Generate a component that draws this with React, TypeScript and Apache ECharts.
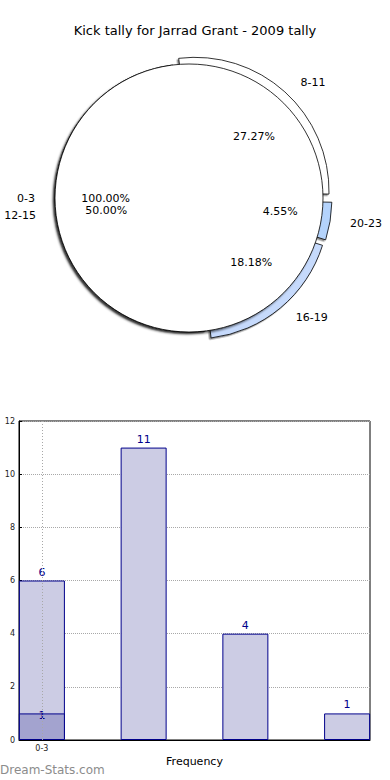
import React, { useEffect, useRef } from 'react';
import * as echarts from 'echarts';

const TITLE = 'Kick tally for Jarrad Grant - 2009 tally';
const WATERMARK = 'Dream-Stats.com';

// Pie 1 (single full slice)
const pieOneNames = ['0-3'];
const pieOneValues = [1];

// Pie 2 (exploded slices)
const pieTwoNames = ['12-15', '16-19', '20-23', '8-11'];
const pieTwoValues = [11, 4, 1, 6];
const pieTwoColors = ['#ffffff', '#c6dafc', '#b4d3fc', '#ffffff'];
const pieTwoExploded = [false, true, true, true];

// Bars
const barX = [0, 1, 2, 3];
const barValues = [6, 11, 4, 1];
const overlayX = [0];
const overlayValues = [1];
const xTickValues = [0];
const xTickLabels = ['0-3'];

const FONT = 'DejaVu Sans';

export default function App() {
  const ref = useRef<HTMLDivElement>(null);
  useEffect(() => {
    if (!ref.current) return;
    const chart = echarts.init(ref.current, undefined, { renderer: 'svg' });
    const center = [189, 198];
    const R = 134;
    const pctFmt = (p: any) => p.percent.toFixed(2) + '%';

    const pieOneData = pieOneNames.map((n, i) => ({ name: n, value: pieOneValues[i] }));
    const pieTwoData = pieTwoNames.map((n, i) => ({
      name: n,
      value: pieTwoValues[i],
      selected: pieTwoExploded[i],
      itemStyle: { color: pieTwoColors[i] },
    }));
    const pieTwoPctData = pieTwoNames.map((n, i) => ({
      name: n,
      value: pieTwoValues[i],
      label: pieTwoExploded[i] ? { offset: [9, 0] } : { offset: [0, 2] },
    }));

    const nameLabel = {
      show: true,
      position: 'outside',
      formatter: '{b}',
      color: '#000',
      fontSize: 11,
      fontFamily: FONT,
      distanceToLabelLine: 5,
    };
    const labelLine = { show: false, length: 13, length2: 2 };
    const pctLabel = { show: true, position: 'inside', formatter: pctFmt, color: '#000', fontSize: 11, fontFamily: FONT };

    const option: any = {
      animation: false,
      backgroundColor: '#fff',
      textStyle: { fontFamily: FONT },
      title: [
        {
          text: TITLE,
          left: 'center',
          top: 19,
          textStyle: { fontFamily: FONT, fontSize: 13, fontWeight: 'normal', color: '#000' },
        },
        {
          text: WATERMARK,
          left: 0,
          top: 764,
          padding: 0,
          textStyle: { fontFamily: FONT, fontSize: 12, fontWeight: 'normal', color: '#8c8c8c' },
        },
      ],
      grid: {
        left: 19,
        right: 20,
        top: 421,
        bottom: 40,
        show: true,
        borderColor: '#000',
        borderWidth: 1,
        backgroundColor: 'transparent',
        outerBoundsMode: 'none',
      },
      xAxis: {
        type: 'value',
        min: -0.225,
        max: 3.225,
        name: 'Frequency',
        nameLocation: 'middle',
        nameGap: 16,
        nameTextStyle: { fontFamily: FONT, fontSize: 11, color: '#000' },
        axisLine: { show: true, onZero: false, lineStyle: { color: '#000', width: 1 } },
        axisTick: { show: true, inside: true, length: 3, customValues: xTickValues, lineStyle: { color: '#000' } },
        axisLabel: {
          show: true,
          customValues: xTickValues,
          fontSize: 8,
          color: '#222',
          fontFamily: FONT,
          margin: 4,
          formatter: (v: number) => {
            const idx = xTickValues.indexOf(v);
            return idx >= 0 ? xTickLabels[idx] : '';
          },
        },
        splitLine: { show: false },
      },
      yAxis: {
        type: 'value',
        min: 0,
        max: 12,
        interval: 2,
        name: 'Stat Value Tally',
        nameLocation: 'middle',
        nameGap: 20,
        nameTextStyle: { fontFamily: FONT, fontSize: 10, color: '#000' },
        axisLine: { show: true, onZero: false, lineStyle: { color: '#000', width: 1 } },
        axisTick: { show: true, inside: true, length: 3, lineStyle: { color: '#000' } },
        axisLabel: { fontSize: 8, color: '#222', fontFamily: FONT, margin: 4 },
        splitLine: { show: true, lineStyle: { type: 'dotted', color: '#a8a8a8', width: 1 } },
      },
      series: [
        {
          type: 'pie',
          name: 'pie2',
          center,
          radius: R,
          z: 2,
          clockwise: false,
          startAngle: 97,
          selectedMode: 'multiple',
          selectedOffset: 9,
          avoidLabelOverlap: false,
          labelLayout: { hideOverlap: false },
          silent: true,
          itemStyle: { borderColor: '#000', borderWidth: 0.8, shadowColor: 'rgba(0,0,0,0.45)', shadowOffsetX: -1.5, shadowOffsetY: 1.5, shadowBlur: 1.5 },
          emphasis: { disabled: true },
          select: { itemStyle: { borderColor: '#000', borderWidth: 0.8 } },
          label: nameLabel,
          labelLine,
          data: pieTwoData,
        },
        {
          type: 'pie',
          name: 'pie1',
          center,
          radius: R,
          z: 3,
          clockwise: false,
          startAngle: 0,
          avoidLabelOverlap: false,
          labelLayout: { hideOverlap: false },
          silent: true,
          itemStyle: {
            color: '#ffffff',
            borderColor: '#000',
            borderWidth: 0.8,
            shadowColor: 'rgba(0,0,0,0.6)',
            shadowOffsetX: -2,
            shadowOffsetY: 2,
            shadowBlur: 2,
          },
          emphasis: { disabled: true },
          label: nameLabel,
          labelLine,
          data: pieOneData,
        },
        {
          type: 'pie',
          name: 'pie2pct',
          center,
          radius: R * 1.2,
          z: 4,
          clockwise: false,
          startAngle: 97,
          silent: true,
          avoidLabelOverlap: false,
          labelLayout: { hideOverlap: false },
          itemStyle: { color: 'rgba(0,0,0,0)', borderWidth: 0 },
          emphasis: { disabled: true },
          label: pctLabel,
          labelLine: { show: false },
          data: pieTwoPctData,
        },
        {
          type: 'pie',
          name: 'pie1pct',
          center,
          radius: R * 1.2,
          z: 5,
          clockwise: false,
          startAngle: 0,
          silent: true,
          avoidLabelOverlap: false,
          labelLayout: { hideOverlap: false },
          itemStyle: { color: 'rgba(0,0,0,0)', borderWidth: 0 },
          emphasis: { disabled: true },
          label: pctLabel,
          labelLine: { show: false },
          data: pieOneNames.map((n, i) => ({ name: n, value: pieOneValues[i] })),
        },
        {
          type: 'bar',
          name: 'tally',
          barWidth: 46,
          barGap: '-100%',
          silent: true,
          itemStyle: { color: '#ccccE4', borderColor: '#00008b', borderWidth: 1 },
          label: { show: true, position: 'top', distance: 3, color: '#00008b', fontSize: 11, fontFamily: FONT },
          data: barX.map((x, i) => [x, barValues[i]]),
          markLine: {
            silent: true,
            symbol: 'none',
            label: { show: false },
            emphasis: { disabled: true },
            lineStyle: { type: [1, 2], color: '#a8a8a8', width: 1 },
            data: xTickValues.map((v) => ({ xAxis: v })),
            z: 5,
          },
        },
        {
          type: 'bar',
          name: 'overlay',
          barWidth: 46,
          barGap: '-100%',
          silent: true,
          itemStyle: { color: '#a3a3cf', borderColor: '#00008b', borderWidth: 1 },
          label: { show: true, position: 'top', distance: 3, offset: [0, 11], color: '#00008b', fontSize: 11, fontFamily: FONT },
          data: overlayX.map((x, i) => [x, overlayValues[i]]),
        },
      ],
    };
    chart.setOption(option);
    return () => chart.dispose();
  }, []);
  return <div ref={ref} style={{ position: 'fixed', left: 0, top: 0, width: 390, height: 780 }} />;
}
